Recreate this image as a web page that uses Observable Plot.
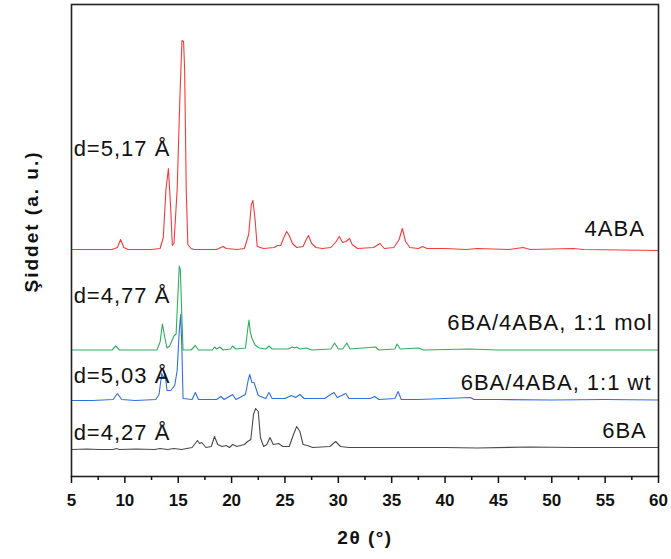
<!DOCTYPE html>
<html><head><meta charset="utf-8">
<script src="https://cdn.jsdelivr.net/npm/d3@7"></script>
<script src="https://cdn.jsdelivr.net/npm/@observablehq/plot@0.6"></script>
<style>
html,body{margin:0;padding:0;background:#fff;}
#chart svg{display:block;}
</style></head><body><div id="chart"></div>
<script>
// Series names (bottom to top) and vertical stacking offsets (a.u.)
const seriesNames = ["6BA", "6BA/4ABA, 1:1 wt", "6BA/4ABA, 1:1 mol", "4ABA"];
const seriesOffsets = [27, 76, 126.5, 227];
const seriesColors = ["#4a4a4a", "#2f6fe0", "#2fae5e", "#f03c3c"];

// [2θ, intensity above baseline]
const xrd_6BA = [[5,0],[6.5,0.5],[7.5,0],[8.9,0],[9.2,1],[9.5,0],[11,0.5],[12.8,0],[13.3,1],[14.0,0],[14.6,1],[15.3,0],[16.3,2],[16.8,9],[17.0,6],[17.2,7],[17.6,2],[18.1,3],[18.4,13],[18.7,5],[19.1,3],[19.5,4],[19.8,2],[20.1,5],[20.5,3],[21.2,5],[21.5,8],[21.8,10],[22.05,35],[22.25,41],[22.5,38],[22.7,12],[23.0,3],[23.3,5],[23.6,12],[23.9,5],[24.4,6],[24.8,3],[25.4,3],[25.8,15],[26.1,23],[26.4,18],[26.7,5],[27.1,4],[27.6,2],[29.2,3],[29.75,8],[30.2,3],[31,2],[34,2],[35,2],[40,2],[43,1.5],[48,2.5],[52,2],[55,2],[60,2]];
const xrd_wt = [[5,0],[7.0,0],[8.9,1],[9.3,7],[9.7,1],[11,0],[12.9,1],[13.2,6],[13.46,27],[13.62,22],[13.77,27],[13.95,10],[14.3,10],[14.67,15],[14.9,30],[15.1,70],[15.23,86],[15.35,50],[15.45,2],[16.3,1],[16.6,8],[16.9,1],[18.6,1],[19.0,4],[19.3,1],[20.1,6],[20.4,1],[21.3,6],[21.55,20],[21.7,26],[21.9,18],[22.1,18],[22.5,5],[23.2,2],[23.5,8],[23.8,2],[25.0,2],[25.6,5],[26.0,3],[26.4,6],[26.8,2],[28.7,2],[29.6,8],[29.9,3],[30.7,7],[31.0,2],[33.0,2],[33.4,4],[33.8,1],[35.3,2],[35.6,9],[35.9,1],[37.5,1],[42.4,3],[42.7,1],[45,1],[50,0.5],[55,1],[60,0.5]];
const xrd_mol = [[5,0],[8.8,0],[9.15,4],[9.5,0],[13.0,0],[13.3,8],[13.52,26],[13.75,12],[13.95,2],[14.2,4],[14.6,14],[14.8,16],[14.95,50],[15.1,84],[15.2,80],[15.35,30],[15.45,0],[16.2,0],[16.6,4.5],[16.9,0],[18.2,0],[18.4,3],[18.6,1],[18.9,3],[19.2,0],[19.9,1],[20.1,4],[20.4,1],[21.3,2],[21.5,20],[21.63,30],[21.75,18],[21.9,12],[22.2,5],[22.6,2],[23.2,1],[23.5,4],[23.8,1],[25.3,1],[25.7,3],[25.9,2],[26.1,3],[26.4,1],[27.0,2],[27.5,0],[29.3,1],[29.65,7],[30.0,1],[30.4,1],[30.8,7],[31.1,1],[33.5,3],[33.8,0],[35.3,1],[35.5,6],[35.8,1],[37.5,2],[38,0],[42.3,1],[45,0],[50,0],[60,0]];
const xrd_4ABA = [[5,0],[8.8,0],[9.3,2],[9.6,10],[9.9,2],[10.3,0],[12.5,0],[13.3,1],[13.6,12],[13.85,60],[14.08,81],[14.3,40],[14.45,4],[14.6,6],[14.9,60],[15.15,150],[15.35,209],[15.5,208],[15.6,180],[15.75,60],[15.9,5],[16.2,1],[16.5,0],[18.6,0],[19.0,2],[19.2,3],[19.5,1],[20.5,0],[21.2,1],[21.6,15],[21.85,45],[22.0,49],[22.2,30],[22.4,3],[23,1],[24.0,2],[24.3,4],[24.6,4],[24.9,12],[25.16,18],[25.4,14],[25.7,6],[26.1,2],[26.7,3],[27.0,10],[27.2,14],[27.5,6],[27.9,2],[28.5,1],[29.3,2],[29.8,8],[30.1,13],[30.4,7],[30.7,8],[31.05,11],[31.3,5],[31.8,1],[33.3,2],[33.9,6],[34.3,1],[35.2,2],[35.7,10],[36.0,21],[36.3,8],[36.7,2],[37.5,1],[37.9,3],[38.3,1],[40,1],[42,0],[43,1],[46,0],[47.3,2],[48,0],[52,1],[53,0],[60,-1]];
const seriesData = [xrd_6BA, xrd_wt, xrd_mol, xrd_4ABA];

// Annotations: d-spacing labels (left) and sample names (right)
const dLabels = ["d=4,27 Å", "d=5,03 Å", "d=4,77 Å", "d=5,17 Å"];
const dLabelY = [44, 101, 181, 328];
const nameLabelY = [46, 94, 154, 248];
const nameLabelX = [58.9, 59.35, 59.45, 58.72];

const majorTicks = d3.range(5, 61, 5);
const minorTicks = d3.range(7.5, 60, 5);
const xTitle = "2θ (°)";
const yTitle = "Şiddet (a. u.)";

const rows = seriesData.flatMap((arr, i) => arr.map(([x, v]) => ({x, y: v + seriesOffsets[i], s: seriesNames[i]})));
const dRows = dLabels.map((t, i) => ({t, x: 5.2, y: dLabelY[i]}));
const nRows = seriesNames.map((t, i) => ({t, x: nameLabelX[i], y: nameLabelY[i]}));

const font = "'Liberation Sans', Arial, Helvetica, sans-serif";

const chart = Plot.plot({
  width: 671,
  height: 559,
  marginLeft: 71,
  marginRight: 13,
  marginTop: 4,
  marginBottom: 83,
  style: {fontFamily: font, background: "#fff", color: "#111"},
  x: {domain: [5, 60]},
  y: {domain: [0, 472], axis: null},
  color: {domain: seriesNames, range: seriesColors},
  marks: [
    ...seriesNames.map((name, i) => Plot.line(rows.filter(r => r.s === name), {x: "x", y: "y", stroke: seriesColors[i], strokeWidth: 1.1})),
    Plot.frame({stroke: "#222", strokeWidth: 1.6}),
    Plot.axisX({ticks: majorTicks, tickSize: 7, tickPadding: 10, fontSize: 17, fontWeight: "bold", strokeWidth: 1.5, label: null}),
    Plot.axisX({ticks: minorTicks, tickSize: 4, tickFormat: () => "", strokeWidth: 1.5, label: null}),
    Plot.text([xTitle], {frameAnchor: "bottom", dy: 67, fontSize: 19, fontWeight: "bold", fill: "#111"}),
    Plot.text([yTitle], {frameAnchor: "left", textAnchor: "middle", dx: -40, dy: -19, rotate: -90, fontSize: 19, fontWeight: "bold", fill: "#111"}),
    Plot.text(dRows, {x: "x", y: "y", text: "t", textAnchor: "start", fontSize: 22, fill: "#111"}),
    Plot.text(nRows, {x: "x", y: "y", text: "t", textAnchor: "end", fontSize: 22, fill: "#111"})
  ]
});
const sel = d3.select(chart).selectAll("text");
sel.filter(function() { const t = this.textContent; return dLabels.includes(t) || seriesNames.includes(t); }).style("letter-spacing", "1px");
sel.filter(function() { return this.textContent === yTitle; }).style("letter-spacing", "2px");
sel.filter(function() { return this.textContent === xTitle; }).style("letter-spacing", "1.5px");
document.getElementById("chart").appendChild(chart);
</script></body></html>
